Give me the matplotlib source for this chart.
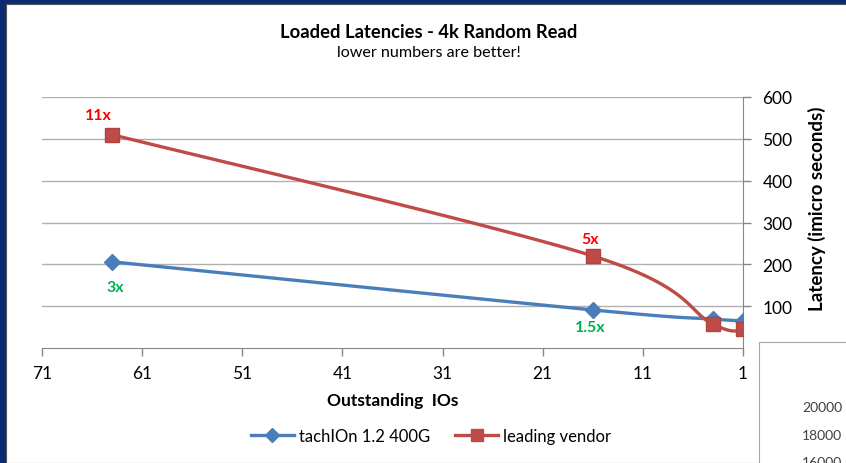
import numpy as np
import matplotlib
matplotlib.use("Agg")
import matplotlib.pyplot as plt
from matplotlib.patches import Rectangle

plt.rcParams["font.family"] = ["Lato", "DejaVu Sans"]

# data
outstanding_ios = [64, 16, 4, 1]
tachion = [206, 91, 69, 65]
leading_vendor = [510, 220, 57, 45]
series_names = ["tachIOn 1.2 400G", "leading vendor"]
x_ticks = [71, 61, 51, 41, 31, 21, 11, 1]
y_ticks = [100, 200, 300, 400, 500, 600]
notes_vendor = ["11x", "5x"]
notes_tachion = ["3x", "1.5x"]
other_chart_ticks = ["20000", "18000", "16000"]

BLUE = "#4a7ebb"
RED = "#be4b48"
FRAME = "#0a2a72"


def smooth(xs, ys, sx, sy, n=40):
    """excel-style smoothed line (catmull-rom through the points, in screen-ish units)"""
    px = np.asarray(xs, float) * sx
    py = np.asarray(ys, float) * sy
    P = np.column_stack([px, py])
    P = np.vstack([P[0], P, P[-1]])
    out = []
    for i in range(1, len(P) - 2):
        p0, p1, p2, p3 = P[i - 1], P[i], P[i + 1], P[i + 2]
        c1 = p1 + (p2 - p0) / 6
        c2 = p2 - (p3 - p1) / 6
        t = np.linspace(0, 1, n)[:, None]
        seg = ((1 - t) ** 3) * p1 + 3 * ((1 - t) ** 2) * t * c1 + 3 * (1 - t) * t ** 2 * c2 + t ** 3 * p2
        out.append(seg)
    out = np.vstack(out)
    return out[:, 0] / sx, out[:, 1] / sy


fig = plt.figure(figsize=(8.46, 4.64), dpi=100)
fig.patch.set_facecolor(FRAME)
W, H = 846, 464
fig.patches.append(Rectangle((6 / W, 0), 1, 1 - 5 / H, transform=fig.transFigure,
                             facecolor="white", edgecolor="#555555", linewidth=0.8, zorder=-2))

# piece of the next chart peeking in at bottom right
fig.patches.append(Rectangle((759 / W, -0.1), 0.2, 0.1 + 1 - 343 / H, transform=fig.transFigure,
                             facecolor="white", edgecolor="#a6a6a6", linewidth=0.8, zorder=-1))
for lbl, yp in zip(other_chart_ticks, [408, 436, 463]):
    fig.text(842 / W, 1 - yp / H, lbl, ha="right", va="center", fontsize=10, color="#404040")

ax = fig.add_axes([42 / W, 1 - 349 / H, 701 / W, 251 / H])
ax.set_facecolor("none")
ax.set_xlim(71, 1)
ax.set_ylim(0, 600)

sx, sy = 701 / 70, 251 / 600
xb, yb = smooth(outstanding_ios, tachion, sx, sy)
xr, yr = smooth(outstanding_ios, leading_vendor, sx, sy)
ax.plot(xb, yb, color=BLUE, lw=2.4, zorder=3, solid_capstyle="round")
ax.plot(xr, yr, color=RED, lw=2.4, zorder=4, solid_capstyle="round")
ax.plot(outstanding_ios, tachion, ls="none", marker="D", ms=8, color=BLUE, zorder=3)
ax.plot(outstanding_ios, leading_vendor, ls="none", marker="s", ms=9.5, color=RED,
        markeredgecolor="#b04442", zorder=4)

for spine in ["left", "top"]:
    ax.spines[spine].set_visible(False)
ax.spines["right"].set_color("#868686")
ax.spines["bottom"].set_color("#868686")
ax.yaxis.tick_right()
ax.yaxis.set_label_position("right")
ax.set_yticks(y_ticks)
ax.set_xticks(x_ticks)
ax.grid(axis="y", color="#b0b0b0", lw=1)
ax.tick_params(axis="both", colors="#868686", labelcolor="black", labelsize=12.5, length=6, width=1)
ax.tick_params(axis="x", pad=6)
ax.tick_params(axis="y", pad=8)

ax.set_xlabel("Outstanding  IOs", fontsize=12.5, fontweight="bold", labelpad=8)
ax.set_ylabel("Latency (imicro seconds)", fontsize=13.5, fontweight="bold")
ax.yaxis.set_label_coords(1.093, 0.56)

# ratio callouts
ax.annotate(notes_vendor[0], (outstanding_ios[0], leading_vendor[0]), xytext=(-10, 14),
            textcoords="offset points", color="#ff0000", fontsize=11.5, fontweight="bold",
            ha="center", va="center")
ax.annotate(notes_vendor[1], (outstanding_ios[1], leading_vendor[1]), xytext=(-2, 12),
            textcoords="offset points", color="#ff0000", fontsize=11.5, fontweight="bold",
            ha="center", va="center")
ax.annotate(notes_tachion[0], (outstanding_ios[0], tachion[0]), xytext=(2, -18),
            textcoords="offset points", color="#00b050", fontsize=11.5, fontweight="bold",
            ha="center", va="center")
ax.annotate(notes_tachion[1], (outstanding_ios[1], tachion[1]), xytext=(-2, -12),
            textcoords="offset points", color="#00b050", fontsize=11.5, fontweight="bold",
            ha="center", va="center")

fig.text(429 / W, 1 - 32 / H, "Loaded Latencies - 4k Random Read", ha="center", va="center",
         fontsize=13.2, fontweight="bold")
fig.text(429 / W, 1 - 53 / H, "lower numbers are better!", ha="center", va="center", fontsize=11.6)

h1, = ax.plot([], [], color=BLUE, lw=2.4, marker="D", ms=7)
h2, = ax.plot([], [], color=RED, lw=2.4, marker="s", ms=9)
fig.legend([h1, h2], series_names, loc="center", bbox_to_anchor=(431 / W, 1 - 437 / H),
           ncol=2, frameon=False, fontsize=12, handlelength=2.6, columnspacing=1.5,
           handletextpad=0.3)

fig.savefig("out.png", dpi=100, facecolor=fig.get_facecolor())
